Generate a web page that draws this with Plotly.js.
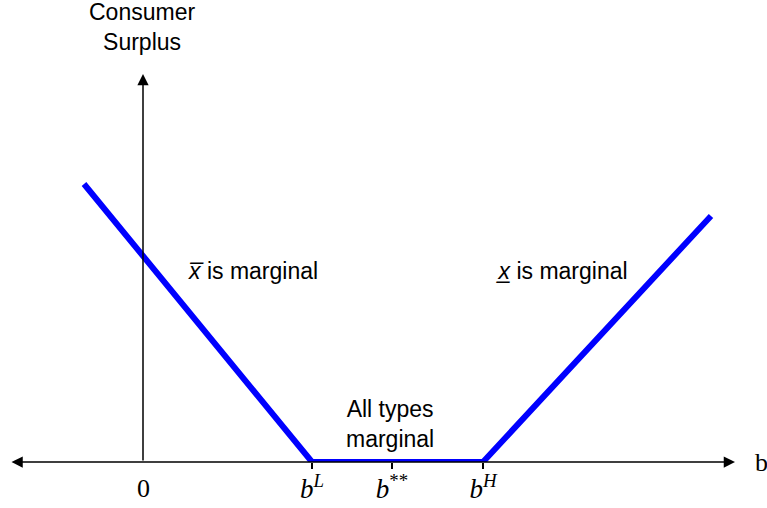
<!DOCTYPE html>
<html>
<head>
<meta charset="utf-8">
<script src="https://cdn.plot.ly/plotly-3.0.1.min.js"></script>
<style>html,body{margin:0;padding:0;background:#fff;}</style>
</head>
<body>
<div id="chart" style="width:767px;height:508px;"></div>
<script>
// Data (arbitrary units; origin at b = 0, surplus = 0)
const curveB = [-0.59, 1.69, 3.40, 5.68];
const curveCS = [2.78, 0, 0, 2.46];
const tickVals = [1.69, 2.49, 3.40];
const tickLabels = ['<i>b</i><sup><i>L</i></sup>', '<i>b</i><sup>**</sup>', '<i>b</i><sup><i>H</i></sup>'];
const originLabel = '0';
const xAxisEnds = [-1.33, 5.92];
const yAxisTop = 3.88;

const serif = 'Liberation Serif, DejaVu Serif, serif';
const sans = 'Liberation Sans, Arial, sans-serif';

const trace = {
  x: curveB, y: curveCS, mode: 'lines', type: 'scatter',
  line: {color: '#0000ff', width: 6}, hoverinfo: 'skip', showlegend: false, cliponaxis: false
};

const annotations = [
  // x-axis with arrows both ends
  {x: xAxisEnds[1], y: 0, ax: xAxisEnds[0], ay: 0, xref: 'x', yref: 'y', axref: 'x', ayref: 'y',
   text: '', showarrow: true, arrowhead: 2, arrowside: 'end+start', arrowsize: 1.5, arrowwidth: 1.5, arrowcolor: '#000'},
  // y-axis with arrow on top
  {x: 0, y: yAxisTop, ax: 0, ay: 0, xref: 'x', yref: 'y', axref: 'x', ayref: 'y',
   text: '', showarrow: true, arrowhead: 2, arrowsize: 1.5, arrowwidth: 1.5, arrowcolor: '#000'},
  {x: -0.01, y: 4.35, xref: 'x', yref: 'y', text: 'Consumer<br>Surplus', showarrow: false,
   font: {family: sans, size: 23, color: '#000'}},
  {x: 6.18, y: 0.0, xref: 'x', yref: 'y', text: 'b', showarrow: false,
   font: {family: serif, size: 26, color: '#000'}},
  {x: 1.10, y: 1.91, xref: 'x', yref: 'y', text: '<i>x\u0305</i> is marginal', showarrow: false,
   font: {family: sans, size: 23, color: '#000'}},
  {x: 4.19, y: 1.91, xref: 'x', yref: 'y', text: '<i>x\u0332</i> is marginal', showarrow: false,
   font: {family: sans, size: 23, color: '#000'}},
  {x: 2.47, y: 0.38, xref: 'x', yref: 'y', text: 'All types<br>marginal', showarrow: false,
   font: {family: sans, size: 23, color: '#000'}},
  {x: 0, y: -0.057, xref: 'x', yref: 'paper', yanchor: 'middle', text: originLabel, showarrow: false,
   font: {family: serif, size: 26, color: '#000'}}
];

const layout = {
  width: 767, height: 508,
  margin: {l: 0, r: 0, t: 0, b: 46},
  paper_bgcolor: '#fff', plot_bgcolor: '#fff',
  xaxis: {range: [-1.43, 6.24], showgrid: false, zeroline: false, showline: false,
    tickvals: tickVals, ticktext: tickLabels, ticks: 'outside', ticklen: 6, tickwidth: 1.2,
    ticklabelstandoff: -3,
    tickcolor: '#000', tickfont: {family: serif, size: 27, color: '#000'}, fixedrange: true},
  yaxis: {range: [0, 4.62], showgrid: false, zeroline: false, showline: false, showticklabels: false,
    ticks: '', fixedrange: true},
  annotations: annotations,
  showlegend: false
};

Plotly.newPlot('chart', [trace], layout, {displayModeBar: false, staticPlot: true});
</script>
</body>
</html>
